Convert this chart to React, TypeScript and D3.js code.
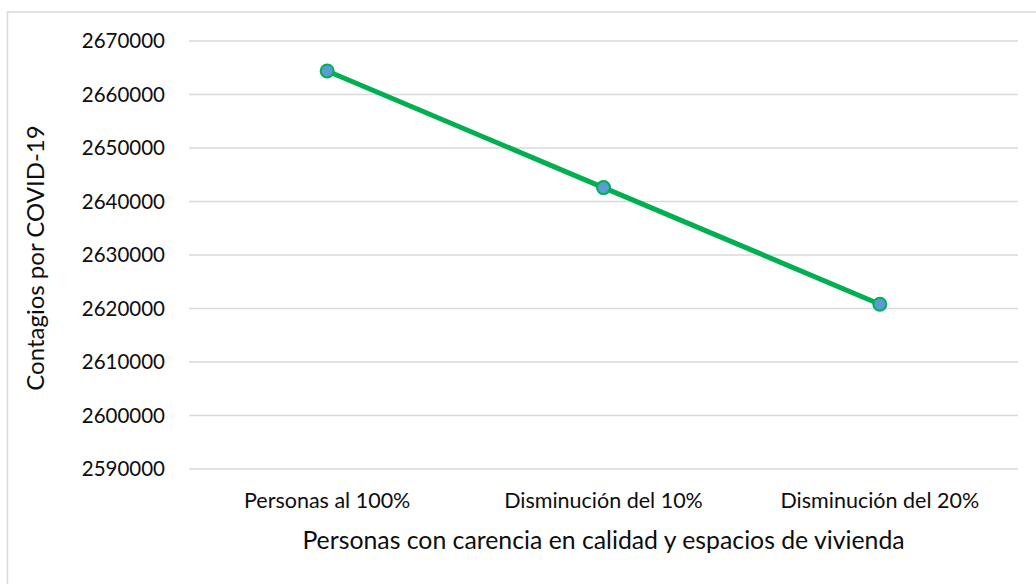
import React, { useEffect, useRef } from 'react';
import * as d3 from 'd3';

const categories = ['Personas al 100%', 'Disminución del 10%', 'Disminución del 20%'];
const contagios = [2664400, 2642600, 2620800];
const yTicks = [2590000, 2600000, 2610000, 2620000, 2630000, 2640000, 2650000, 2660000, 2670000];

const xTitle = 'Personas con carencia en calidad y espacios de vivienda';
const yTitle = 'Contagios por COVID-19';

export default function App() {
    const svgRef = useRef<SVGSVGElement>(null);

    useEffect(() => {
        if (!svgRef.current) return;
        const width = 1036;
        const height = 584;
        const margin = { top: 41, right: 18, bottom: 115, left: 189 };
        const innerWidth = width - margin.left - margin.right;
        const innerHeight = height - margin.top - margin.bottom;
        const font = 'Lato, sans-serif';

        const svg = d3.select(svgRef.current);
        svg.selectAll('*').remove();
        svg.attr('width', width).attr('height', height);

        // chart border (runs off the right and bottom edges)
        svg.append('rect')
            .attr('x', 7.5).attr('y', 12)
            .attr('width', 1200).attr('height', 800)
            .attr('fill', 'white')
            .attr('stroke', '#d9d9d9')
            .attr('stroke-width', 1.5);

        const g = svg.append('g').attr('transform', `translate(${margin.left},${margin.top})`);

        const x = d3.scaleBand().domain(categories).range([0, innerWidth]);
        const y = d3.scaleLinear().domain([2590000, 2670000]).range([innerHeight, 0]);
        const cx = (i: number) => (x(categories[i]) ?? 0) + x.bandwidth() / 2;

        // gridlines
        g.append('g')
            .selectAll('line')
            .data(yTicks)
            .join('line')
            .attr('x1', 0).attr('x2', innerWidth)
            .attr('y1', d => y(d)).attr('y2', d => y(d))
            .attr('stroke', '#d9d9d9')
            .attr('stroke-width', 1.5);

        // y axis labels
        g.append('g')
            .selectAll('text')
            .data(yTicks)
            .join('text')
            .attr('x', -24)
            .attr('y', d => y(d))
            .attr('dy', '0.36em')
            .attr('text-anchor', 'end')
            .attr('font-family', font)
            .attr('font-size', 20.5)
            .attr('fill', '#0d0d0d')
            .text(d => d3.format('d')(d));

        // x axis labels
        g.append('g')
            .selectAll('text')
            .data(categories)
            .join('text')
            .attr('x', d => (x(d) ?? 0) + x.bandwidth() / 2)
            .attr('y', innerHeight + 39)
            .attr('text-anchor', 'middle')
            .attr('font-family', font)
            .attr('font-size', 21.5)
            .attr('fill', '#0d0d0d')
            .text(d => d);

        const line = d3.line<number>()
            .x((_, i) => cx(i))
            .y(d => y(d));

        g.append('path')
            .datum(contagios)
            .attr('fill', 'none')
            .attr('stroke', '#00b050')
            .attr('stroke-width', 5)
            .attr('d', line);

        g.append('g')
            .selectAll('circle')
            .data(contagios)
            .join('circle')
            .attr('cx', (_, i) => cx(i))
            .attr('cy', d => y(d))
            .attr('r', 6.5)
            .attr('fill', '#5b9bd5')
            .attr('stroke', '#00b050')
            .attr('stroke-width', 2);

        svg.append('text')
            .attr('x', margin.left + innerWidth / 2)
            .attr('y', 549)
            .attr('text-anchor', 'middle')
            .attr('font-family', font)
            .attr('font-size', 24.8)
            .attr('fill', '#0d0d0d')
            .text(xTitle);

        svg.append('text')
            .attr('transform', `translate(44,${margin.top + innerHeight / 2 + 3}) rotate(-90)`)
            .attr('text-anchor', 'middle')
            .attr('font-family', font)
            .attr('font-size', 24)
            .attr('fill', '#0d0d0d')
            .text(yTitle);
    }, []);

    return <svg ref={svgRef} style={{ position: 'absolute', left: 0, top: 0 }} />;
}
